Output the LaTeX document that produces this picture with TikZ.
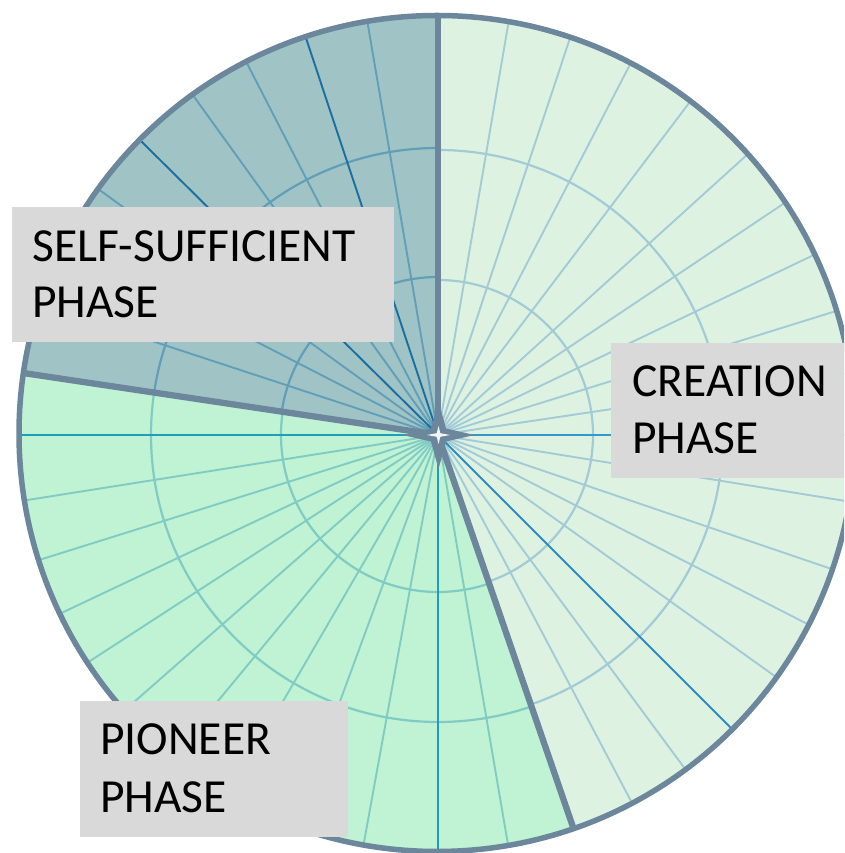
\documentclass[tikz,border=0pt]{standalone}
\usepackage{fontspec}
\setmainfont{Carlito}
\definecolor{outl}{HTML}{6C869C}
\definecolor{boxgray}{HTML}{D9D9D9}
\definecolor{crfill}{HTML}{DEF2E2}
\definecolor{crgrid}{HTML}{A3CBD6}
\definecolor{crdark}{HTML}{2E8BC0}
\definecolor{crhor}{HTML}{3399CC}
\definecolor{pifill}{HTML}{C0F2D4}
\definecolor{pigrid}{HTML}{80CCC4}
\definecolor{pidark}{HTML}{1E9EB8}
\definecolor{sefill}{HTML}{A0C4C6}
\definecolor{segrid}{HTML}{619FB8}
\definecolor{sedark}{HTML}{1A6FA0}
\definecolor{starwhite}{HTML}{F2F6FA}
\begin{document}
\begin{tikzpicture}[x=1pt,y=1pt,
  spoke/.style={line width=1.9pt},
  axis/.style={line width=2.1pt},
  ring/.style={line width=2.2pt},
  border/.style={draw=outl, line width=6.3pt},
  phasebox/.style={fill=boxgray, inner sep=0pt, anchor=north west},
  phasetext/.style={anchor=base west, inner sep=0pt, font=\fontsize{47.5}{57}\selectfont, text=black}]

\useasboundingbox (0,0) rectangle (844,853);
\clip (0,0) rectangle (844,853);
\coordinate (C) at (438,418);
\coordinate (O) at (437,419.5);

\begin{scope}
  \clip (O) circle[radius=418];
  % creation phase region
  \begin{scope}
    \clip (C) -- ([shift={(C)}]289:1500) -- ([shift={(C)}]0:1500) -- ([shift={(C)}]90:1500) -- cycle;
    \fill[crfill] (O) circle[radius=430];
    \foreach \a in {297.8,306.5,324.4,332.9,341.2,350.8,8.5,17.3,25.6,33.8,42.2,52.9,62.6,71.6,80.3}
      \draw[spoke, crgrid] (C) -- ++(\a:1200);
    \draw[ring, crgrid] (C) circle[radius=155] (C) circle[radius=285];
    \draw[spoke, crdark] (C) -- ++(315:1200);
    \draw[axis, crhor] (C) -- ++(0:1200);
  \end{scope}
  % pioneer phase region
  \begin{scope}
    \clip (C) -- ([shift={(C)}]171.5:1500) -- ([shift={(C)}]230:1500) -- ([shift={(C)}]289:1500) -- cycle;
    \fill[pifill] (O) circle[radius=430];
    \foreach \a in {189,197.4,205.3,213,221.3,230.4,239.8,249.8,259.7,279.7}
      \draw[spoke, pigrid] (C) -- ++(\a:1200);
    \draw[ring, pigrid] (C) circle[radius=157] (C) circle[radius=287];
    \draw[axis, pidark] (C) -- ++(180:1200);
    \draw[axis, pidark] (C) -- ++(270:1200);
  \end{scope}
  % self-sufficient phase region
  \begin{scope}
    \clip (C) -- ([shift={(C)}]90:1500) -- ([shift={(C)}]130:1500) -- ([shift={(C)}]171.5:1500) -- cycle;
    \fill[sefill] (O) circle[radius=430];
    \foreach \a in {99.7,117.2,125.8,144.1,152.8,161.8}
      \draw[spoke, segrid] (C) -- ++(\a:1200);
    \draw[ring, segrid] (C) circle[radius=158] (C) circle[radius=287];
    \draw[spoke, sedark] (C) -- ++(108.4:1200);
    \draw[spoke, sedark] (C) -- ++(135.3:1200);
  \end{scope}
  % sector boundaries
  \draw[border] (C) -- ++(90:600);
  \draw[border] (C) -- ++(171.5:600);
  \draw[border] (C) -- ++(289:600);
\end{scope}

% outline
\draw[outl, line width=5.5pt] (O) circle[radius=418];

% centre star
\begin{scope}[shift={(438.5,418)}]
  \fill[outl] (36,0) -- (7.5,6.5) -- (0,34) -- (-7.5,6.5) -- (-36,0) -- (-7.5,-6.5) -- (0,-34) -- (7.5,-6.5) -- cycle;
  \fill[starwhite] (11.5,0) -- (1.8,1.8) -- (0,9) -- (-1.8,1.8) -- (-11.5,0) -- (-1.8,-1.8) -- (0,-9) -- (1.8,-1.8) -- cycle;
\end{scope}

% labels
\node[phasebox, minimum width=382, minimum height=135] (selfbox) at (12,646) {};
\node[phasetext] (selfA) at (32,591) {SELF-SUFFICIENT};
\node[phasetext] (selfB) at (32,535) {PHASE};

\node[phasebox, minimum width=250, minimum height=135] (creabox) at (611,510) {};
\node[phasetext] (creaA) at (632,456) {CREATION};
\node[phasetext] (creaB) at (632,399) {PHASE};

\node[phasebox, minimum width=268, minimum height=136] (pionbox) at (80,152) {};
\node[phasetext] (pionA) at (100,98) {PIONEER};
\node[phasetext] (pionB) at (100,40) {PHASE};
\end{tikzpicture}
\end{document}
